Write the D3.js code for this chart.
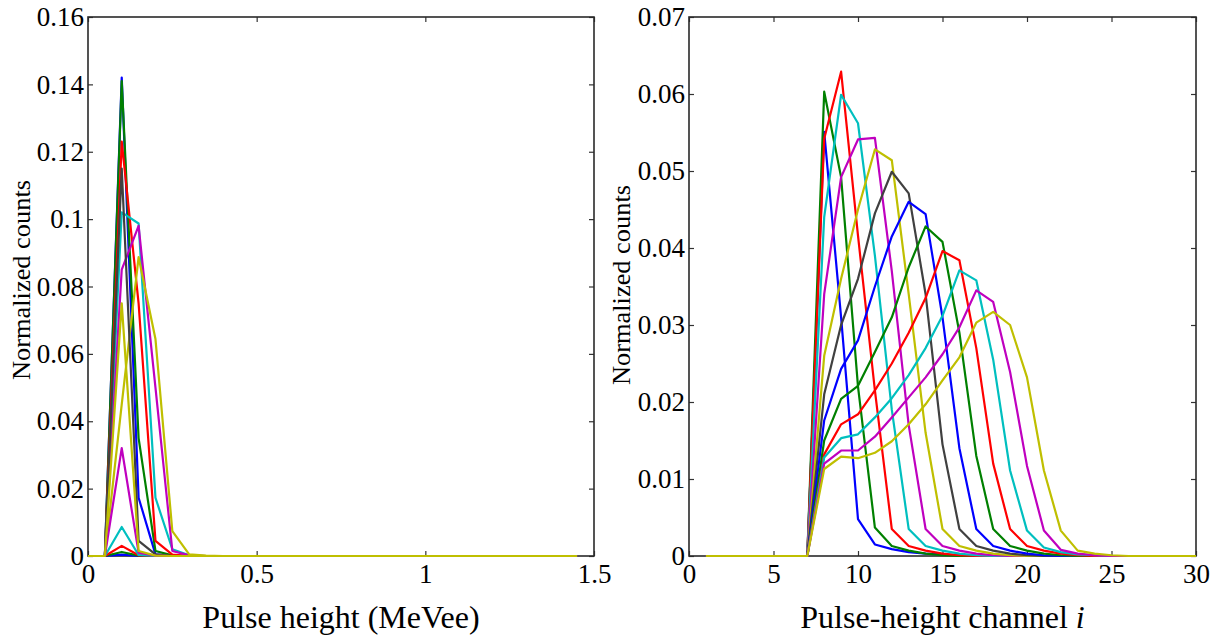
<!DOCTYPE html>
<html><head><meta charset="utf-8">
<script src="https://cdn.jsdelivr.net/npm/d3@7"></script>
<style>
html,body{margin:0;padding:0;background:#fff;}
svg{display:block;}
text{font-family:"Liberation Serif","Times New Roman",serif;fill:#000;}
</style></head>
<body>
<svg id="chart" width="1225" height="637"></svg>
<script>
// ---------- DATA ----------
const colorCycle = ["#0000ff","#008000","#ff0000","#00bfbf","#bf00bf","#bfbf00","#404040"];

// Left panel: pulse height (MeVee)
const leftX = [0,0.05,0.1,0.15,0.2,0.25,0.3,0.35,0.4,0.45,0.5,0.55,0.6,0.65,0.7,0.75,0.8,0.85,0.9,0.95,1,1.05,1.1,1.15,1.2,1.25,1.3,1.35,1.4,1.45];
const leftS1  = [0,0,0.142,0.0173,0.0005,0.0001,0,0,0,0,0,0,0,0,0,0,0,0,0,0,0,0,0,0,0,0,0,0,0,0];
const leftS2  = [0,0,0.141,0.035,0.0015,0.0002,0,0,0,0,0,0,0,0,0,0,0,0,0,0,0,0,0,0,0,0,0,0,0,0];
const leftS3  = [0,0,0.123,0.075,0.0045,0.0004,0,0,0,0,0,0,0,0,0,0,0,0,0,0,0,0,0,0,0,0,0,0,0,0];
const leftS4  = [0,0,0.102,0.0987,0.0173,0.002,0.0002,0,0,0,0,0,0,0,0,0,0,0,0,0,0,0,0,0,0,0,0,0,0,0];
const leftS5  = [0,0,0.085,0.098,0.05,0.0015,0.0002,0,0,0,0,0,0,0,0,0,0,0,0,0,0,0,0,0,0,0,0,0,0,0];
const leftS6  = [0,0,0.045,0.0887,0.0644,0.0074,0.0005,0.0001,0,0,0,0,0,0,0,0,0,0,0,0,0,0,0,0,0,0,0,0,0,0];
const leftS7  = [0,0,0.115,0.0045,0.0005,0,0,0,0,0,0,0,0,0,0,0,0,0,0,0,0,0,0,0,0,0,0,0,0,0];
const leftS8  = [0,0,0.0004,0,0,0,0,0,0,0,0,0,0,0,0,0,0,0,0,0,0,0,0,0,0,0,0,0,0,0];
const leftS9  = [0,0,0.0012,0.0001,0,0,0,0,0,0,0,0,0,0,0,0,0,0,0,0,0,0,0,0,0,0,0,0,0,0];
const leftS10 = [0,0,0.003,0.0002,0,0,0,0,0,0,0,0,0,0,0,0,0,0,0,0,0,0,0,0,0,0,0,0,0,0];
const leftS11 = [0,0,0.0086,0.0003,0,0,0,0,0,0,0,0,0,0,0,0,0,0,0,0,0,0,0,0,0,0,0,0,0,0];
const leftS12 = [0,0,0.032,0.001,0.0001,0,0,0,0,0,0,0,0,0,0,0,0,0,0,0,0,0,0,0,0,0,0,0,0,0];
const leftS13 = [0,0,0.075,0.0015,0.0001,0,0,0,0,0,0,0,0,0,0,0,0,0,0,0,0,0,0,0,0,0,0,0,0,0];
const leftSeries = [leftS1,leftS2,leftS3,leftS4,leftS5,leftS6,leftS7,leftS8,leftS9,leftS10,leftS11,leftS12,leftS13];
const leftXTicks = [0,0.5,1,1.5];
const leftYTicks = [0,0.02,0.04,0.06,0.08,0.1,0.12,0.14,0.16];

// Right panel: pulse-height channel i
const rightX = [1,2,3,4,5,6,7,8,9,10,11,12,13,14,15,16,17,18,19,20,21,22,23,24,25,26,27,28,29,30];
const rightS1  = [0,0,0,0,0,0,0,0.0551,0.031,0.0048,0.0015,0.0009,0.0005,0.0003,0.0002,0.0001,0,0,0,0,0,0,0,0,0,0,0,0,0,0];
const rightS2  = [0,0,0,0,0,0,0,0.0603,0.0492,0.022,0.0037,0.0013,0.0007,0.0003,0.0001,0,0,0,0,0,0,0,0,0,0,0,0,0,0,0];
const rightS3  = [0,0,0,0,0,0,0,0.0542,0.0629,0.0416,0.0215,0.0035,0.0013,0.0007,0.0003,0.0001,0,0,0,0,0,0,0,0,0,0,0,0,0,0];
const rightS4  = [0,0,0,0,0,0,0,0.044,0.0599,0.0562,0.039,0.019,0.0035,0.0013,0.0007,0.0003,0.0001,0,0,0,0,0,0,0,0,0,0,0,0,0];
const rightS5  = [0,0,0,0,0,0,0,0.034,0.0492,0.0541,0.0543,0.037,0.017,0.0035,0.0013,0.0007,0.0003,0.0001,0,0,0,0,0,0,0,0,0,0,0,0];
const rightS6  = [0,0,0,0,0,0,0,0.026,0.036,0.045,0.0528,0.0514,0.034,0.016,0.0035,0.0013,0.0007,0.0003,0.0001,0,0,0,0,0,0,0,0,0,0,0];
const rightS7  = [0,0,0,0,0,0,0,0.021,0.030,0.036,0.0445,0.0499,0.0471,0.034,0.0145,0.0035,0.0013,0.0007,0.0003,0.0001,0,0,0,0,0,0,0,0,0,0];
const rightS8  = [0,0,0,0,0,0,0,0.0176,0.0243,0.028,0.035,0.0415,0.046,0.0444,0.031,0.014,0.0035,0.0013,0.0007,0.0003,0.0001,0,0,0,0,0,0,0,0,0];
const rightS9  = [0,0,0,0,0,0,0,0.015,0.0204,0.0221,0.0265,0.031,0.0375,0.0428,0.0408,0.029,0.013,0.0035,0.0013,0.0007,0.0003,0.0001,0,0,0,0,0,0,0,0];
const rightS10 = [0,0,0,0,0,0,0,0.0132,0.0171,0.0184,0.0215,0.025,0.029,0.0335,0.0396,0.0384,0.027,0.012,0.0035,0.0013,0.0007,0.0003,0.0001,0,0,0,0,0,0,0];
const rightS11 = [0,0,0,0,0,0,0,0.0128,0.0153,0.0158,0.018,0.0205,0.0235,0.027,0.0312,0.0371,0.0358,0.0255,0.0111,0.0033,0.0011,0.0005,0.0002,0.0001,0,0,0,0,0,0];
const rightS12 = [0,0,0,0,0,0,0,0.012,0.0137,0.0137,0.0155,0.018,0.0206,0.0232,0.0262,0.0297,0.0345,0.033,0.0239,0.0117,0.0033,0.0008,0.0003,0.0001,0,0,0,0,0,0];
const rightS13 = [0,0,0,0,0,0,0,0.0113,0.0129,0.0127,0.0134,0.0149,0.0171,0.0197,0.0228,0.0258,0.0303,0.0317,0.0300,0.0232,0.0111,0.0033,0.0007,0.0003,0.0001,0,0,0,0,0];
const rightSeries = [rightS1,rightS2,rightS3,rightS4,rightS5,rightS6,rightS7,rightS8,rightS9,rightS10,rightS11,rightS12,rightS13];
const rightXTicks = [0,5,10,15,20,25,30];
const rightYTicks = [0,0.01,0.02,0.03,0.04,0.05,0.06,0.07];

// ---------- DRAW ----------
const svg = d3.select("#chart");
const fmt = d => String(+d.toFixed(3));

function panel(cfg){
  const x = d3.scaleLinear().domain(cfg.xDomain).range([cfg.left, cfg.right]);
  const y = d3.scaleLinear().domain(cfg.yDomain).range([cfg.bottom, cfg.top]);
  const g = svg.append("g");
  const tick = 5;

  const ax = g.append("g").attr("transform",`translate(${cfg.left},0)`)
    .call(d3.axisLeft(y).tickValues(cfg.yTicks).tickFormat(fmt).tickSizeInner(-tick).tickSizeOuter(0).tickPadding(4));
  ax.selectAll("text").style("font-size","27px").attr("font-family","Liberation Serif");
  const bx = g.append("g").attr("transform",`translate(0,${cfg.bottom})`)
    .call(d3.axisBottom(x).tickValues(cfg.xTicks).tickFormat(fmt).tickSizeInner(-tick).tickSizeOuter(0).tickPadding(8));
  bx.selectAll("text").style("font-size","27px").attr("font-family","Liberation Serif");
  const rx = g.append("g").attr("transform",`translate(${cfg.right},0)`)
    .call(d3.axisRight(y).tickValues(cfg.yTicks).tickFormat("").tickSizeInner(-tick).tickSizeOuter(0));
  const tx = g.append("g").attr("transform",`translate(0,${cfg.top})`)
    .call(d3.axisTop(x).tickValues(cfg.xTicks).tickFormat("").tickSizeInner(-tick).tickSizeOuter(0));
  [ax,bx,rx,tx].forEach(a=>{a.select(".domain").remove(); a.selectAll("line").attr("stroke","#333").attr("stroke-width",1.2);});

  g.append("rect").attr("x",cfg.left).attr("y",cfg.top)
    .attr("width",cfg.right-cfg.left).attr("height",cfg.bottom-cfg.top)
    .attr("fill","none").attr("stroke","#2a2a2a").attr("stroke-width",1.6);

  const line = d3.line().x((d,i)=>x(cfg.xs[i])).y(d=>y(d));
  cfg.series.forEach((s,k)=>{
    g.append("path").datum(s).attr("d",line)
      .attr("fill","none").attr("stroke",colorCycle[k%7])
      .attr("stroke-width",2.2).attr("stroke-linejoin","round");
  });

  const xl = g.append("text").attr("x",(cfg.left+cfg.right)/2).attr("y",628)
    .attr("text-anchor","middle").style("font-size","32px");
  xl.append("tspan").text(cfg.xLabel);
  if(cfg.xLabelItalic) xl.append("tspan").attr("font-style","italic").text(cfg.xLabelItalic);

  g.append("text").attr("transform",`translate(${cfg.yLabelX},${cfg.yLabelY}) rotate(-90)`)
    .attr("text-anchor","middle").style("font-size","26px")
    .attr("textLength",200).attr("lengthAdjust","spacingAndGlyphs").text("Normalized counts");
}

panel({left:88,right:594,top:17,bottom:556,xDomain:[0,1.5],yDomain:[0,0.16],
  xTicks:leftXTicks,yTicks:leftYTicks,xs:leftX,series:leftSeries,
  xLabel:"Pulse height (MeVee)",yLabelX:30,yLabelY:280});
panel({left:689,right:1196,top:17,bottom:556,xDomain:[0,30],yDomain:[0,0.07],
  xTicks:rightXTicks,yTicks:rightYTicks,xs:rightX,series:rightSeries,
  xLabel:"Pulse-height channel ",xLabelItalic:"i",yLabelX:630,yLabelY:285});
</script>
</body></html>
